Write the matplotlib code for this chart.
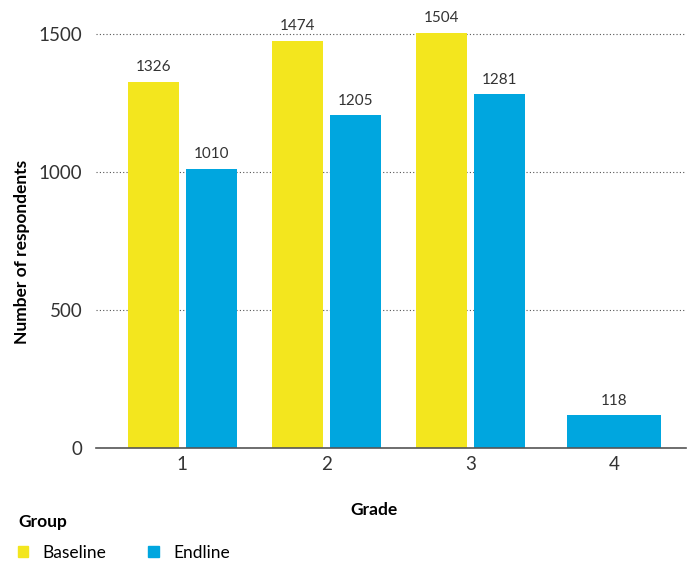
import matplotlib
matplotlib.use("Agg")
import matplotlib.pyplot as plt
from matplotlib.patches import Patch

grades = ["1", "2", "3", "4"]
baseline = [1326, 1474, 1504, None]
endline = [1010, 1205, 1281, 118]
YELLOW, BLUE = "#F3E61E", "#00A6DF"

plt.rcParams.update({"font.family": ["Lato", "DejaVu Sans"]})
fig = plt.figure(figsize=(6.91, 5.67), dpi=100)
ax = fig.add_axes([0.139, 0.210, 0.854, 0.745])

w, off, wide = 0.356, 0.202, 0.65
for i, (b, e) in enumerate(zip(baseline, endline)):
    bars = []
    if b is not None and e is not None:
        bars.append(ax.bar(i - off, b, w, color=YELLOW, zorder=2)[0])
        bars.append(ax.bar(i + off, e, w, color=BLUE, zorder=2)[0])
    elif e is not None:
        bars.append(ax.bar(i, e, wide, color=BLUE, zorder=2)[0])
    else:
        bars.append(ax.bar(i, b, wide, color=YELLOW, zorder=2)[0])
    for bar in bars:
        ax.text(bar.get_x() + bar.get_width() / 2, bar.get_height() + 28, f"{bar.get_height():.0f}",
                ha="center", va="bottom", fontsize=11, color="#333333")

ax.set_xlim(-0.60, 3.50); ax.set_ylim(0, 1530)
ax.set_xticks(range(len(grades))); ax.set_xticklabels(grades, fontsize=13.5, color="#333333")
ax.set_yticks([0, 500, 1000, 1500])
ax.set_yticklabels(["0", "500", "1000", "1500"], fontsize=13.5, color="#333333")
ax.tick_params(axis="both", length=0, pad=6)
ax.tick_params(axis="y", pad=10)
ax.grid(axis="y", linestyle=(0, (1, 2)), color="#555555", linewidth=0.8, zorder=0)
for s in ["top", "right", "left"]:
    ax.spines[s].set_visible(False)
ax.spines["bottom"].set_color("#555555"); ax.spines["bottom"].set_linewidth(1.2)
ax.spines["bottom"].set_zorder(3)

ax.set_ylabel("Number of respondents", fontsize=12.5, fontweight="bold")
ax.yaxis.set_label_coords(-0.112, 0.465)
fig.text(0.541, 0.100, "Grade", ha="center", va="center", fontsize=12.5, fontweight="bold")

fig.text(0.026, 0.079, "Group", ha="left", va="center", fontsize=12.5, fontweight="bold")
fig.legend(handles=[Patch(color=YELLOW, label="Baseline"), Patch(color=BLUE, label="Endline")],
           loc="center left", bbox_to_anchor=(0.003, 0.025), ncol=2, frameon=False, fontsize=12.5,
           handlelength=0.6, handleheight=0.6, handletextpad=0.85, columnspacing=2.4)

plt.savefig("out.png", dpi=100)
